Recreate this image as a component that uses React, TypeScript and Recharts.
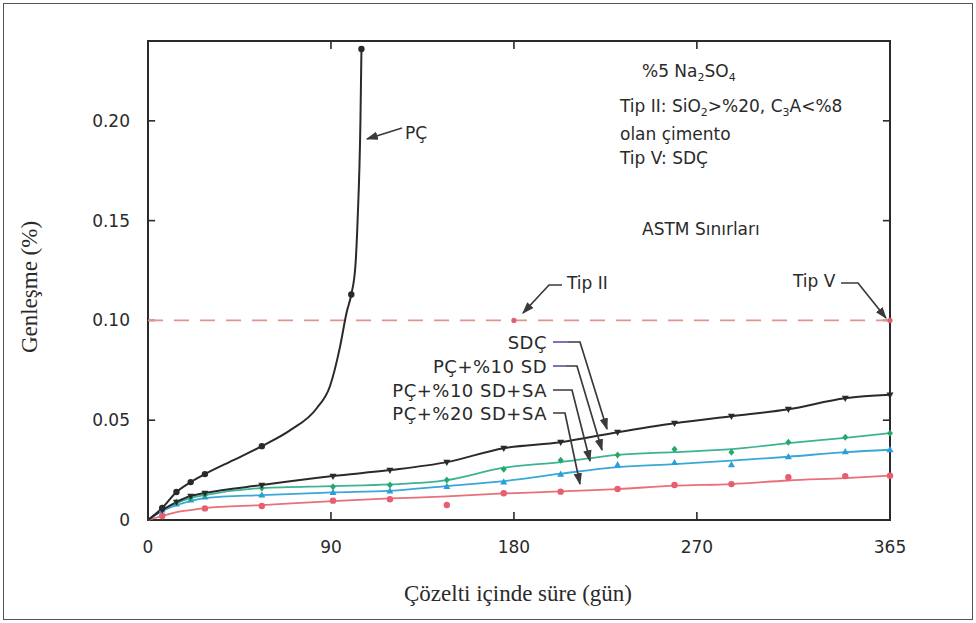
import React from "react";
import {
  ComposedChart,
  Line,
  Scatter,
  XAxis,
  YAxis,
  ReferenceLine,
  ReferenceArea,
  ReferenceDot,
} from "recharts";

// sampling days (gün) shared by the four slow series
const DAYS = [0, 7, 14, 21, 28, 56, 91, 119, 147, 175, 203, 231, 259, 287, 315, 343, 365];

// PÇ blows up after ~3 months, so it is read on its own days
const PC_DAYS = [0, 7, 14, 21, 28, 42, 56, 70, 83, 89.5, 94.5, 97.7, 100, 102, 103.1, 104.5, 105];
const PC_LINE = [0, 0.006, 0.014, 0.019, 0.023, 0.03, 0.037, 0.045, 0.056, 0.067, 0.087, 0.104, 0.113, 0.127, 0.15, 0.2, 0.236];
const PC_MARKED = [7, 14, 21, 28, 56, 100, 105];

const SDC_LINE = [0, 0.005, 0.009, 0.012, 0.0135, 0.0175, 0.022, 0.025, 0.029, 0.036, 0.039, 0.044, 0.0485, 0.052, 0.0555, 0.061, 0.0627];
const SDC_PTS = [null, 0.005, 0.009, 0.012, 0.0135, 0.0175, 0.022, 0.025, 0.029, 0.036, 0.039, 0.044, 0.0485, 0.052, 0.0555, 0.061, 0.0627];

const SD10_LINE = [0, 0.005, 0.0085, 0.011, 0.0125, 0.016, 0.017, 0.0178, 0.02, 0.0262, 0.029, 0.0326, 0.034, 0.0355, 0.0385, 0.0412, 0.0435];
const SD10_PTS = [null, 0.006, 0.009, 0.011, 0.0125, 0.016, 0.0167, 0.0175, 0.02, 0.0254, 0.03, 0.0326, 0.0355, 0.034, 0.039, 0.0415, 0.0435];

const SD10SA_LINE = [0, 0.0045, 0.0075, 0.0095, 0.011, 0.0125, 0.0138, 0.0146, 0.017, 0.0195, 0.0232, 0.0265, 0.028, 0.0297, 0.0317, 0.034, 0.0352];
const SD10SA_PTS = [null, 0.005, 0.008, 0.01, 0.0115, 0.0125, 0.0137, 0.0145, 0.0167, 0.019, 0.0229, 0.0276, 0.0287, 0.0276, 0.0317, 0.0342, 0.0352];

const SD20SA_LINE = [0, 0.002, 0.004, 0.005, 0.006, 0.0075, 0.0095, 0.0108, 0.0118, 0.0133, 0.0143, 0.0155, 0.0172, 0.018, 0.0198, 0.021, 0.0222];
const SD20SA_PTS = [null, 0.002, null, null, 0.0058, 0.007, 0.0097, 0.0104, 0.0075, 0.0134, 0.0142, 0.0155, 0.0175, 0.018, 0.0214, 0.022, 0.0222];

const X_TICKS = [0, 90, 180, 270, 365];
const Y_TICKS = [0, 0.05, 0.1, 0.15, 0.2];
const ASTM_LIMIT = 0.1;
const LIMIT_MARKS = [180, 365];

const rows = (days: number[], vals: (number | null)[]) =>
  days.map((day, i) => ({ day, v: vals[i] })).filter((r) => r.v != null);

const pcRows = rows(PC_DAYS, PC_LINE);
const pcMarks = pcRows.filter((r) => PC_MARKED.includes(r.day));

const INK = "#2a2a2a";
const SANS = "DejaVu Sans, sans-serif";
const SERIF = "Liberation Serif, serif";

function dotShape(kind: string, color: string) {
  return (p: any) => {
    const { cx, cy } = p;
    if (cx == null || cy == null) return <g />;
    if (kind === "tri")
      return <path d={`M${cx},${cy - 3.8} L${cx + 3.5},${cy + 2.4} L${cx - 3.5},${cy + 2.4} Z`} fill={color} />;
    if (kind === "itri")
      return <path d={`M${cx},${cy + 3.8} L${cx + 3.5},${cy - 2.4} L${cx - 3.5},${cy - 2.4} Z`} fill={color} />;
    if (kind === "dia")
      return <path d={`M${cx},${cy - 3.5} L${cx + 3},${cy} L${cx},${cy + 3.5} L${cx - 3},${cy} Z`} fill={color} />;
    return <circle cx={cx} cy={cy} r={3.2} fill={color} />;
  };
}

function Arrow({ d }: { d: string }) {
  return <path d={d} fill="none" stroke="#3a3a3a" strokeWidth={1.7} markerEnd="url(#ah)" />;
}

function Notes() {
  const t = { fontFamily: SANS, fontSize: 17, fill: INK };
  const lab = { fontFamily: SANS, fontSize: 18, fill: INK, letterSpacing: 0.5, textAnchor: "end" as const };
  return (
    <svg width={976} height={623} style={{ position: "absolute", left: 0, top: 0, pointerEvents: "none" }}>
      <defs>
        <marker id="ah" viewBox="0 0 10 10" refX="9" refY="5" markerWidth="12" markerHeight="12" markerUnits="userSpaceOnUse" orient="auto">
          <path d="M0,1.5 L10,5 L0,8.5 Z" fill="#3a3a3a" />
        </marker>
      </defs>

      <text {...t} x={642} y={77}>
        %5 Na<tspan fontSize={11} dy={4}>2</tspan>
        <tspan dy={-4}>SO</tspan>
        <tspan fontSize={11} dy={4}>4</tspan>
      </text>
      <text {...t} x={620} y={112}>
        Tip II: SiO<tspan fontSize={11} dy={4}>2</tspan>
        <tspan dy={-4}>&gt;%20, C</tspan>
        <tspan fontSize={11} dy={4}>3</tspan>
        <tspan dy={-4}>A&lt;%8</tspan>
      </text>
      <text {...t} x={620} y={140}>olan çimento</text>
      <text {...t} x={620} y={164}>Tip V: SDÇ</text>
      <text {...t} x={642} y={235}>ASTM Sınırları</text>

      <text {...t} x={793} y={287}>Tip V</text>
      <Arrow d="M841,283 L858,283 L886,318" />
      <text {...t} x={567} y={289}>Tip II</text>
      <Arrow d="M562,285 L549,285 L523,313" />

      <text {...t} x={405} y={139}>PÇ</text>
      <Arrow d="M402,128 L367,139" />

      <text {...lab} x={547} y={349}>SDÇ</text>
      <text {...lab} x={547} y={373}>PÇ+%10 SD</text>
      <text {...lab} x={547} y={397}>PÇ+%10 SD+SA</text>
      <text {...lab} x={547} y={420}>PÇ+%20 SD+SA</text>
      <path d="M553,342 L568,342" stroke="#6a5aa8" strokeWidth={1.7} />
      <Arrow d="M568,342 L580,342 L607,429" />
      <path d="M553,366 L566,366" stroke="#6a5aa8" strokeWidth={1.7} />
      <Arrow d="M566,366 L577,366 L602,450" />
      <Arrow d="M553,390 L572,390 L590,461" />
      <Arrow d="M553,413 L565,413 L580,484" />

      <text fontFamily={SERIF} fontSize={23} fill={INK} textAnchor="middle" transform="translate(37,287) rotate(-90)">
        Genleşme (%)
      </text>
      <text fontFamily={SERIF} fontSize={23} fill={INK} textAnchor="middle" x={518} y={601}>
        Çözelti içinde süre (gün)
      </text>
    </svg>
  );
}

export default function App() {
  const tick = { fontFamily: SANS, fontSize: 17, fill: INK };
  return (
    <div style={{ position: "absolute", left: 0, top: 0, width: 976, height: 623, background: "#fff" }}>
      <div style={{ position: "absolute", left: 3, top: 3, width: 968, height: 615, border: "1px solid #555" }} />
      <ComposedChart width={976} height={623} margin={{ top: 41, right: 86, bottom: 73, left: 88 }}>
        <XAxis
          type="number"
          dataKey="day"
          domain={[0, 365]}
          ticks={X_TICKS}
          allowDuplicatedCategory={false}
          axisLine={false}
          tickLine={false}
          tickSize={0}
          tickMargin={21}
          tick={tick}
          height={30}
        />
        <YAxis
          type="number"
          domain={[0, 0.24]}
          ticks={Y_TICKS}
          axisLine={false}
          tickLine={false}
          tickSize={0}
          tickMargin={18}
          tick={tick}
          width={60}
          tickFormatter={(v: number) => (v === 0 ? "0" : v.toFixed(2))}
        />

        <ReferenceArea x1={0} x2={365} y1={0} y2={0.24} fill="none" stroke={INK} strokeWidth={2} />
        {Y_TICKS.slice(1).map((v) => (
          <ReferenceLine key={"l" + v} segment={[{ x: 0, y: v }, { x: 3.5, y: v }]} stroke={INK} strokeWidth={1.6} />
        ))}
        {Y_TICKS.slice(1).map((v) => (
          <ReferenceLine key={"r" + v} segment={[{ x: 361.5, y: v }, { x: 365, y: v }]} stroke={INK} strokeWidth={1.6} />
        ))}
        {X_TICKS.slice(1, 4).map((d) => (
          <ReferenceLine key={"b" + d} segment={[{ x: d, y: 0 }, { x: d, y: 0.004 }]} stroke={INK} strokeWidth={1.6} />
        ))}
        {X_TICKS.slice(1, 4).map((d) => (
          <ReferenceLine key={"t" + d} segment={[{ x: d, y: 0.24 }, { x: d, y: 0.236 }]} stroke={INK} strokeWidth={1.6} />
        ))}

        <ReferenceLine y={ASTM_LIMIT} stroke="#e3928c" strokeWidth={1.6} strokeDasharray="15 11" />
        {LIMIT_MARKS.map((d) => (
          <ReferenceDot key={"m" + d} x={d} y={ASTM_LIMIT} r={2.6} fill="#e2606e" stroke="none" />
        ))}

        <Line data={rows(DAYS, SD20SA_LINE)} dataKey="v" type="monotone" stroke="#e96f78" strokeWidth={1.8} dot={false} isAnimationActive={false} />
        <Line data={rows(DAYS, SD10SA_LINE)} dataKey="v" type="monotone" stroke="#38a8d8" strokeWidth={1.8} dot={false} isAnimationActive={false} />
        <Line data={rows(DAYS, SD10_LINE)} dataKey="v" type="monotone" stroke="#3cb394" strokeWidth={1.8} dot={false} isAnimationActive={false} />
        <Line data={rows(DAYS, SDC_LINE)} dataKey="v" type="monotone" stroke={INK} strokeWidth={2} dot={false} isAnimationActive={false} />
        <Line data={pcRows} dataKey="v" type="monotone" stroke={INK} strokeWidth={2} dot={false} isAnimationActive={false} />

        <Scatter data={rows(DAYS, SD20SA_PTS)} dataKey="v" shape={dotShape("circle", "#e85d70")} isAnimationActive={false} />
        <Scatter data={rows(DAYS, SD10SA_PTS)} dataKey="v" shape={dotShape("tri", "#2b9ed8")} isAnimationActive={false} />
        <Scatter data={rows(DAYS, SD10_PTS)} dataKey="v" shape={dotShape("dia", "#27a86a")} isAnimationActive={false} />
        <Scatter data={rows(DAYS, SDC_PTS)} dataKey="v" shape={dotShape("itri", INK)} isAnimationActive={false} />
        <Scatter data={pcMarks} dataKey="v" shape={dotShape("circle", INK)} isAnimationActive={false} />
      </ComposedChart>
      <Notes />
    </div>
  );
}
